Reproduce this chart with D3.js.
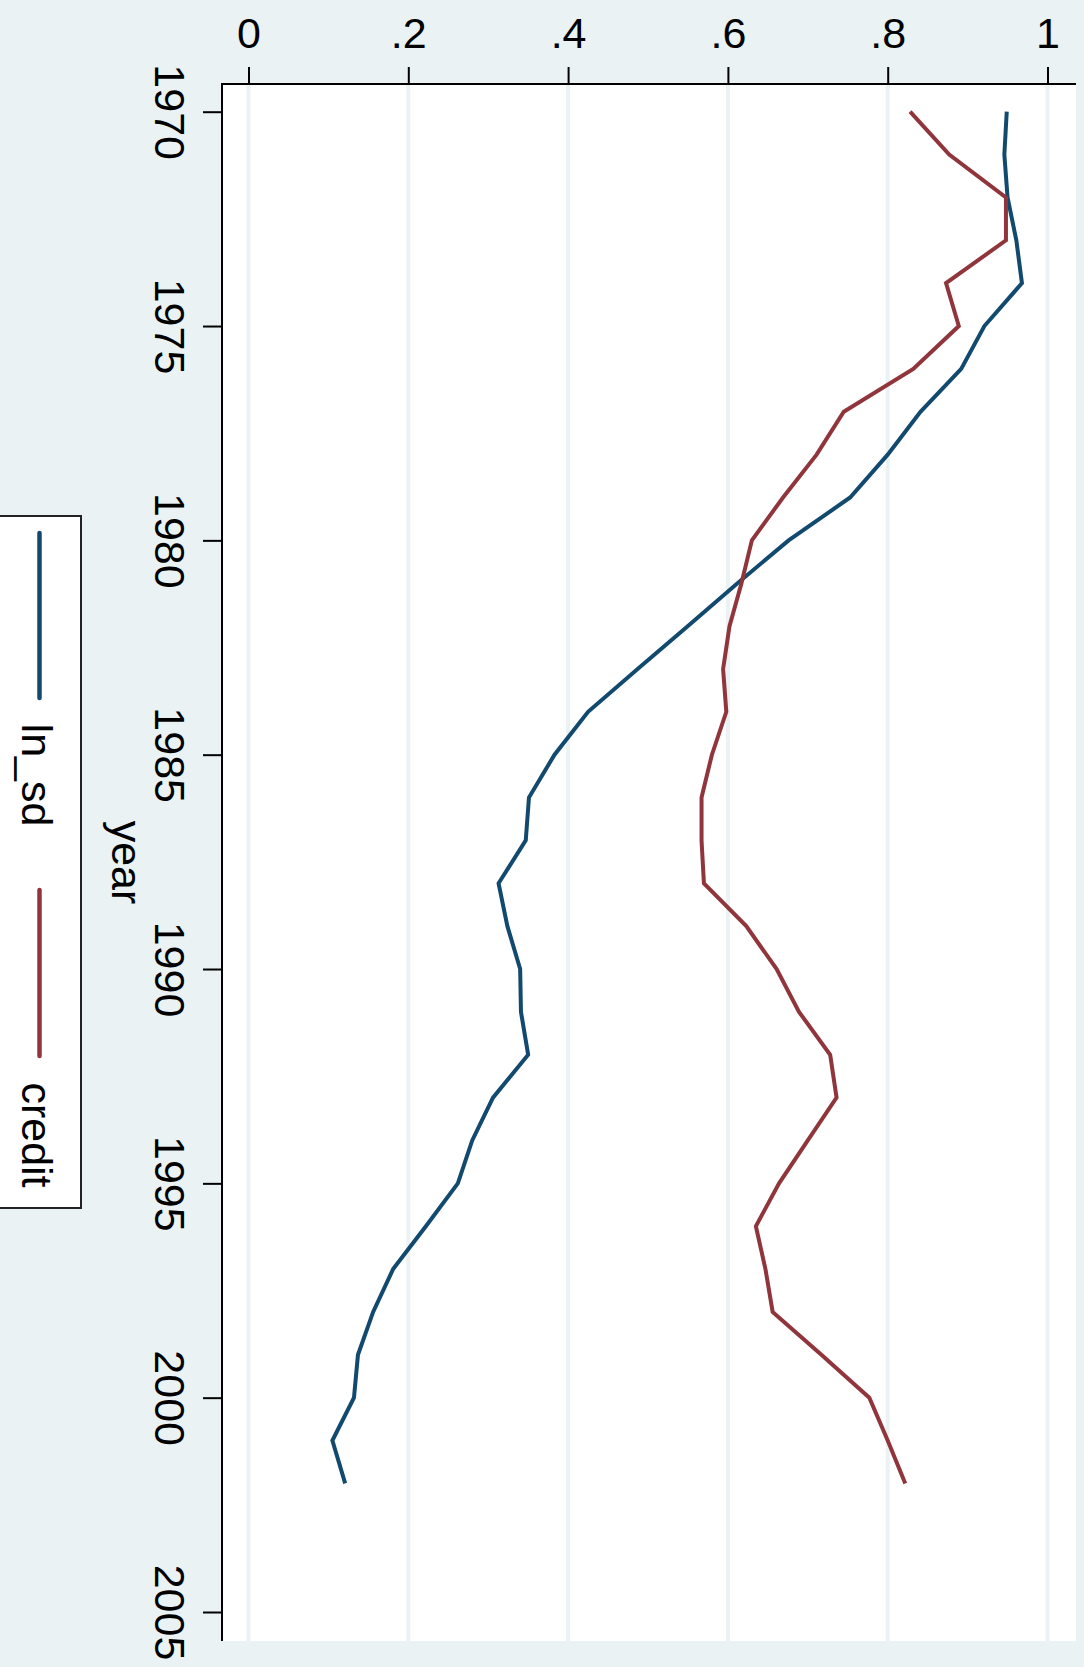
<!DOCTYPE html>
<html>
<head>
<meta charset="utf-8">
<script src="https://cdn.jsdelivr.net/npm/d3@7/dist/d3.min.js"></script>
<style>
html,body{margin:0;padding:0;background:#EAF2F3;}
svg{display:block;}
text{font-family:"Liberation Sans",Arial,Helvetica,sans-serif;fill:#000;}
</style>
</head>
<body>
<svg id="chart" width="1084" height="1667"></svg>
<script>
// ---- data ----
const years = [1970,1971,1972,1973,1974,1975,1976,1977,1978,1979,1980,1981,1982,1983,1984,1985,1986,1987,1988,1989,1990,1991,1992,1993,1994,1995,1996,1997,1998,1999,2000,2001,2002];
const lnSd = [0.949,0.946,0.950,0.961,0.968,0.921,0.892,0.841,0.800,0.753,0.676,0.612,0.550,0.487,0.425,0.383,0.351,0.347,0.313,0.324,0.340,0.341,0.350,0.306,0.280,0.262,0.222,0.181,0.156,0.137,0.132,0.105,0.121];
const credit = [0.828,0.877,0.948,0.948,0.873,0.889,0.832,0.745,0.711,0.669,0.630,0.617,0.602,0.594,0.598,0.580,0.567,0.567,0.570,0.623,0.661,0.689,0.728,0.736,0.700,0.664,0.635,0.647,0.656,0.717,0.777,0.800,0.822];
const valueTicks = [0,0.2,0.4,0.6,0.8,1];
const yearTicks = [1970,1975,1980,1985,1990,1995,2000,2005];
const seriesNames = ["ln_sd","credit"];
const seriesColors = ["#12496F","#90353B"];

// ---- layout ----
const svg = d3.select("#chart");
const plotLeft = 222, plotTop = 84, plotRight = 1076, plotBottom = 1641;
const x = d3.scaleLinear().domain([0,1]).range([248.5,1047.5]);
const y = d3.scaleLinear().domain([1970,2005]).range([111.7,1612]);

svg.append("rect").attr("x",0).attr("y",0).attr("width",1084).attr("height",1667).attr("fill","#EAF2F3");
svg.append("rect").attr("x",plotLeft).attr("y",plotTop).attr("width",plotRight-plotLeft).attr("height",plotBottom-plotTop).attr("fill","#FFFFFF");

// gridlines
svg.append("g").selectAll("line").data(valueTicks).join("line")
  .attr("x1",d=>x(d)).attr("x2",d=>x(d))
  .attr("y1",plotTop).attr("y2",plotBottom)
  .attr("stroke","#EAF2F3").attr("stroke-width",4);

// series lines
const series = [lnSd, credit];
const line = d3.line().x(d=>x(d[1])).y(d=>y(d[0]));
series.forEach((vals,i)=>{
  svg.append("path")
    .datum(years.map((yr,j)=>[yr, vals[j]]))
    .attr("d", line)
    .attr("fill","none")
    .attr("stroke", seriesColors[i])
    .attr("stroke-width",4)
    .attr("stroke-linejoin","miter");
});

// top value axis
const fmt = d => d===0 ? "0" : d===1 ? "1" : d3.format(".1f")(d).replace(/^0/,"");
const gx = svg.append("g").attr("transform",`translate(0,${plotTop})`)
  .call(d3.axisTop(x).tickValues(valueTicks).tickFormat(fmt).tickSize(17).tickPadding(19).tickSizeOuter(0));
gx.select(".domain").remove();
gx.selectAll(".tick line").attr("stroke","#000").attr("stroke-width",2);
gx.selectAll(".tick text").attr("font-size",43).attr("font-family","Liberation Sans, Arial, sans-serif").attr("fill","#000");

// left year axis
const gy = svg.append("g").attr("transform",`translate(${plotLeft},0)`)
  .call(d3.axisLeft(y).tickValues(yearTicks).tickFormat(d3.format("d")).tickSize(19).tickSizeOuter(0));
gy.select(".domain").remove();
gy.selectAll(".tick line").attr("stroke","#000").attr("stroke-width",2);
gy.selectAll(".tick text")
  .attr("x",0).attr("dy",0)
  .attr("text-anchor","middle")
  .attr("transform","translate(-67,0) rotate(90)")
  .attr("font-size",43).attr("font-family","Liberation Sans, Arial, sans-serif").attr("fill","#000");

// axis lines
svg.append("line").attr("x1",plotLeft).attr("x2",plotLeft).attr("y1",plotTop-1).attr("y2",plotBottom).attr("stroke","#000").attr("stroke-width",2);
svg.append("line").attr("x1",plotLeft-1).attr("x2",plotRight).attr("y1",plotTop).attr("y2",plotTop).attr("stroke","#000").attr("stroke-width",2);

// axis title
svg.append("text").attr("transform",`translate(112,${(plotTop+plotBottom)/2}) rotate(90)`)
  .attr("text-anchor","middle").attr("font-size",43).text("year");

// legend
const lg = svg.append("g");
lg.append("rect").attr("x",-6).attr("y",516).attr("width",87).attr("height",692)
  .attr("fill","#FFFFFF").attr("stroke","#222").attr("stroke-width",2);
const legendItems = [
  {name:seriesNames[0], color:seriesColors[0], l1:533, l2:698, t:775},
  {name:seriesNames[1], color:seriesColors[1], l1:890, l2:1056, t:1135}
];
legendItems.forEach(it=>{
  lg.append("line").attr("x1",39.5).attr("x2",39.5).attr("y1",it.l1).attr("y2",it.l2)
    .attr("stroke",it.color).attr("stroke-width",4.5).attr("stroke-linecap","round");
  lg.append("text").attr("transform",`translate(22,${it.t}) rotate(90)`)
    .attr("text-anchor","middle").attr("font-size",43).text(it.name);
});
</script>
</body>
</html>
